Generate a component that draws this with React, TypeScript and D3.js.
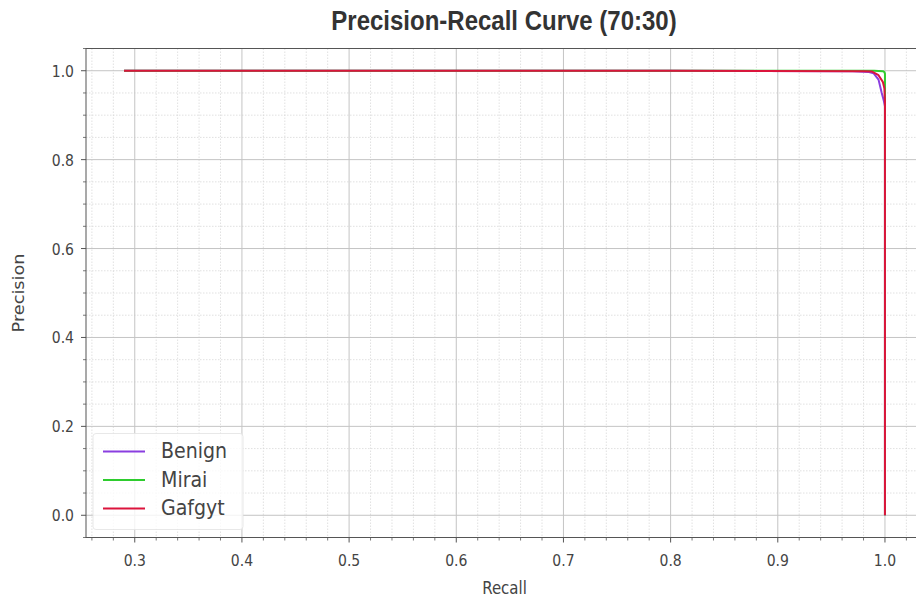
import * as d3 from 'd3';

const classNames = ['Benign', 'Mirai', 'Gafgyt'];
const classColors = ['#8a3ee0', '#2ecc2e', '#dc143c'];

// recall / precision pairs
const benignRecall = [0.29, 0.5, 0.8, 0.97, 0.985, 0.9895, 0.994, 0.997, 0.999, 1.0, 1.0];
const benignPrecision = [1.0, 1.0, 1.0, 0.999, 0.997, 0.994, 0.98, 0.95, 0.932, 0.92, 0.0];
const miraiRecall = [0.29, 0.5, 0.8, 0.99, 0.998, 0.9995, 1.0, 1.0];
const miraiPrecision = [1.0, 1.0, 1.0, 1.0, 0.999, 0.997, 0.993, 0.0];
const gafgytRecall = [0.29, 0.5, 0.8, 0.98, 0.988, 0.994, 0.998, 0.9995, 1.0, 1.0];
const gafgytPrecision = [1.0, 1.0, 1.0, 0.999, 0.998, 0.99, 0.975, 0.96, 0.93, 0.0];

const xTicks = [0.3, 0.4, 0.5, 0.6, 0.7, 0.8, 0.9, 1.0];
const yTicks = [0.0, 0.2, 0.4, 0.6, 0.8, 1.0];

const width = 916;
const height = 600;
const margin = { top: 48.5, right: -7, bottom: 62.5, left: 86 };
const stretch = 1.18; // text in the reference is a bit taller than wide
const font = 'DejaVu Sans, sans-serif';

export default function App() {
  const plotW = width - margin.left - margin.right;
  const plotH = height - margin.top - margin.bottom;

  const x = d3.scaleLinear().domain([0.2545, 1.0355]).range([0, plotW]);
  const y = d3.scaleLinear().domain([-0.05, 1.05]).range([plotH, 0]);

  const series = [
    { r: benignRecall, p: benignPrecision },
    { r: miraiRecall, p: miraiPrecision },
    { r: gafgytRecall, p: gafgytPrecision },
  ];

  const line = d3.line<[number, number]>()
    .x(d => x(d[0]))
    .y(d => y(d[1]));

  const xMinor = d3.range(0.26, 1.04, 0.02).filter(v => !xTicks.some(t => Math.abs(t - v) < 1e-6));
  const yMinor = d3.range(-0.05, 1.06, 0.05).filter(v => !yTicks.some(t => Math.abs(t - v) < 1e-6));

  const txt = (tx: number, ty: number, k = stretch, rot = 0) =>
    `translate(${tx},${ty}) scale(1,${k})${rot ? ` rotate(${rot})` : ''}`;

  return (
    <svg width={width} height={height} style={{ position: 'absolute', left: 0, top: 0, background: '#fff' }}>
      <text transform={txt(width / 2 + 46, 30, 1.12)} textAnchor="middle" fontFamily="Liberation Sans, Arial, sans-serif"
        fontWeight="bold" fontSize={24} fill="#333">
        Precision-Recall Curve (70:30)
      </text>

      <g transform={`translate(${margin.left},${margin.top})`}>
        <defs>
          <clipPath id="plot-clip">
            <rect x={0} y={0} width={plotW} height={plotH} />
          </clipPath>
        </defs>

        {/* Minor grid */}
        {xMinor.map((v, i) => (
          <line key={`xm${i}`} x1={x(v)} x2={x(v)} y1={0} y2={plotH} stroke="#d4d4d4" strokeWidth={0.7} strokeDasharray="1.5,1.5" />
        ))}
        {yMinor.map((v, i) => (
          <line key={`ym${i}`} x1={0} x2={plotW} y1={y(v)} y2={y(v)} stroke="#d4d4d4" strokeWidth={0.7} strokeDasharray="1.5,1.5" />
        ))}
        {/* Major grid */}
        {xTicks.map((v, i) => (
          <line key={`xg${i}`} x1={x(v)} x2={x(v)} y1={0} y2={plotH} stroke="#c4c4c4" strokeWidth={1} />
        ))}
        {yTicks.map((v, i) => (
          <line key={`yg${i}`} x1={0} x2={plotW} y1={y(v)} y2={y(v)} stroke="#c4c4c4" strokeWidth={1} />
        ))}

        {/* Curves */}
        <g clipPath="url(#plot-clip)">
          {series.map((s, i) => (
            <path key={i} d={line(s.r.map((r, j) => [r, s.p[j]] as [number, number])) || ''}
              fill="none" stroke={classColors[i]} strokeWidth={2} strokeLinejoin="round" />
          ))}
        </g>

        {/* Legend */}
        <g transform="translate(7,385)">
          <rect x={0} y={0} width={150} height={96} rx={3} fill="#fff" fillOpacity={0.8} stroke="#e2e2e2" strokeWidth={0.8} />
          {classNames.map((name, i) => (
            <g key={name} transform={`translate(0,${18 + i * 28.5})`}>
              <line x1={10} x2={52} y1={0} y2={0} stroke={classColors[i]} strokeWidth={2} />
              <text transform={txt(68, 6.5, 1.1)} fontFamily={font} fontSize={19} fill="#444">{name}</text>
            </g>
          ))}
        </g>

        {/* Spines */}
        <rect x={0} y={0} width={plotW} height={plotH} fill="none" stroke="#555" strokeWidth={1} />

        {/* X axis ticks */}
        {xMinor.map((v, i) => (
          <line key={`xmt${i}`} x1={x(v)} x2={x(v)} y1={plotH} y2={plotH + 3} stroke="#555" strokeWidth={0.8} />
        ))}
        {xTicks.map((v, i) => (
          <g key={`xt${i}`}>
            <line x1={x(v)} x2={x(v)} y1={plotH} y2={plotH + 5} stroke="#555" strokeWidth={1} />
            <text transform={txt(x(v), plotH + 28)} textAnchor="middle" fontFamily={font} fontSize={14} fill="#444">
              {v.toFixed(1)}
            </text>
          </g>
        ))}

        {/* Y axis ticks */}
        {yMinor.map((v, i) => (
          <line key={`ymt${i}`} x1={-3} x2={0} y1={y(v)} y2={y(v)} stroke="#555" strokeWidth={0.8} />
        ))}
        {yTicks.map((v, i) => (
          <g key={`yt${i}`}>
            <line x1={-5} x2={0} y1={y(v)} y2={y(v)} stroke="#555" strokeWidth={1} />
            <text transform={txt(-12, y(v) + 6)} textAnchor="end" fontFamily={font} fontSize={14} fill="#444">
              {v.toFixed(1)}
            </text>
          </g>
        ))}

        {/* Axis labels */}
        <text transform={txt(plotW / 2, plotH + 56)} textAnchor="middle" fontFamily={font} fontSize={15} fill="#444">
          Recall
        </text>
        <text transform={txt(-62, plotH / 2, stretch, -90)} textAnchor="middle" fontFamily={font} fontSize={15} fill="#444">
          Precision
        </text>
      </g>
    </svg>
  );
}
